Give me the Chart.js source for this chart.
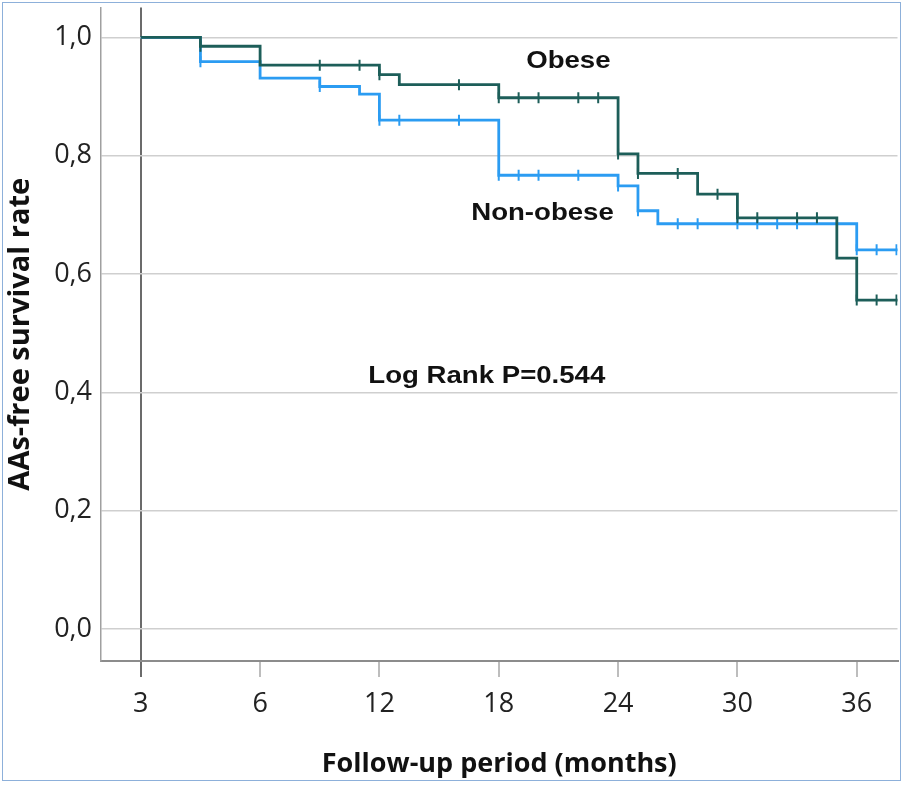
<!DOCTYPE html>
<html>
<head>
<meta charset="utf-8">
<title>AAs-free survival</title>
<script src="https://cdn.jsdelivr.net/npm/chart.js@4.4.1/dist/chart.umd.min.js"></script>
<style>
  html, body { margin: 0; padding: 0; background: #fff; }
  #wrap { position: relative; width: 905px; height: 785px; }
  #frame { position: absolute; left: 2px; top: 2px; width: 897px; height: 777px;
           border: 1.5px solid #8db0da; pointer-events: none; }
</style>
</head>
<body>
<div id="wrap">
  <canvas id="kmChart" width="905" height="785"></canvas>
  <div id="frame"></div>
</div>
<script>
// Kaplan-Meier steps: month where the curve changes and the survival right after it
const obeseTimes = [0, 3, 6, 12, 13, 18, 24, 25, 28, 30, 35, 36, 38.5];
const obeseSurv = [1.0, 0.985, 0.953, 0.937, 0.920, 0.898, 0.803, 0.770, 0.735, 0.695, 0.627, 0.556, 0.556];
const obeseCensored = [3, 9, 11, 12, 16, 18, 19, 20, 22, 23, 24, 25, 27, 29, 30, 31, 33, 34, 36, 37, 38];

const nonObeseTimes = [0, 3, 6, 9, 11, 12, 18, 24, 25, 26, 36, 38.5];
const nonObeseSurv = [1.0, 0.959, 0.931, 0.917, 0.904, 0.860, 0.767, 0.749, 0.707, 0.685, 0.641, 0.641];
const nonObeseCensored = [3, 9, 12, 13, 16, 18, 19, 20, 22, 24, 25, 27, 28, 30, 31, 32, 33, 36, 37, 38];

// axis ticks (the first x tick sits at 0 but is labelled "3" in the original)
const xTickValues = [0, 6, 12, 18, 24, 30, 36];
const xTickLabels = ['3', '6', '12', '18', '24', '30', '36'];
const yTickValues = [0, 0.2, 0.4, 0.6, 0.8, 1.0];

const teal = '#1d5e59';
const blue = '#2b9cf2';

function stepPoints(times, surv) {
    return times.map((t, i) => ({ x: t, y: surv[i] }));
}

// survival level at a censoring time
function survAt(times, surv, t) {
    let v = surv[0];
    for (let i = 0; i < times.length; i++) {
        if (times[i] <= t) v = surv[i];
    }
    return v;
}

function censorPoints(censored, times, surv) {
    return censored.map(t => ({ x: t, y: survAt(times, surv, t) }));
}

// draws the in-plot labels at data positions, slightly widened like the original
const annotationText = {
    id: 'annotationText',
    afterDatasetsDraw(chart, args, opts) {
        const { ctx, scales: { x, y } } = chart;
        ctx.save();
        ctx.font = 'bold 24px "Liberation Sans", Arial, sans-serif';
        ctx.fillStyle = '#111';
        ctx.textAlign = 'center';
        ctx.textBaseline = 'alphabetic';
        opts.items.forEach(item => {
            ctx.save();
            ctx.translate(x.getPixelForValue(item.x), y.getPixelForValue(item.y));
            ctx.scale(opts.stretch, 1);
            ctx.fillText(item.text, 0, 0);
            ctx.restore();
        });
        ctx.restore();
    }
};

const tickFont = { family: '"Open Sans", sans-serif', size: 27 };

const ctxKm = document.getElementById('kmChart').getContext('2d');
const kmChart = new Chart(ctxKm, {
    type: 'line',
    data: {
        datasets: [
            {
                label: 'Obese',
                data: stepPoints(obeseTimes, obeseSurv),
                stepped: 'before',
                borderColor: teal,
                borderWidth: 2.8,
                pointRadius: 0,
                fill: false
            },
            {
                label: 'Obese censored',
                data: censorPoints(obeseCensored, obeseTimes, obeseSurv),
                showLine: false,
                pointStyle: 'line',
                rotation: 90,
                pointRadius: 5.5,
                borderColor: teal,
                pointBorderWidth: 2
            },
            {
                label: 'Non-obese',
                data: stepPoints(nonObeseTimes, nonObeseSurv),
                stepped: 'before',
                borderColor: blue,
                borderWidth: 2.8,
                pointRadius: 0,
                fill: false
            },
            {
                label: 'Non-obese censored',
                data: censorPoints(nonObeseCensored, nonObeseTimes, nonObeseSurv),
                showLine: false,
                pointStyle: 'line',
                rotation: 90,
                pointRadius: 5.5,
                borderColor: blue,
                pointBorderWidth: 2
            }
        ]
    },
    options: {
        responsive: false,
        animation: false,
        layout: { padding: { left: 4, right: 7, top: 5, bottom: 4 } },
        plugins: {
            legend: { display: false },
            tooltip: { enabled: false },
            annotationText: {
                stretch: 1.15,
                items: [
                    { text: 'Obese', x: 21.5, y: 0.948 },
                    { text: 'Non-obese', x: 20.2, y: 0.691 },
                    { text: 'Log Rank P=0.544', x: 17.4, y: 0.416 }
                ]
            }
        },
        scales: {
            x: {
                type: 'linear',
                min: -2.0,
                max: 38.05,
                afterBuildTicks: scale => { scale.ticks = xTickValues.map(v => ({ value: v })); },
                afterFit: scale => {
                    scale.height = 120;
                    scale.paddingLeft = 0;
                    scale.paddingRight = 0;
                },
                ticks: {
                    callback: value => xTickLabels[xTickValues.indexOf(value)],
                    font: tickFont,
                    color: '#222',
                    padding: 11,
                    maxRotation: 0,
                    autoSkip: false
                },
                grid: {
                    color: ctx => (ctx.tick && ctx.tick.value === 0) ? '#6b6b6b' : 'rgba(0,0,0,0)',
                    tickColor: ctx => (ctx.tick && ctx.tick.value === 0) ? '#6b6b6b' : '#bdbdbd',
                    lineWidth: 2,
                    tickLength: 16
                },
                border: { color: '#8c8c8c', width: 2 },
                title: {
                    display: true,
                    text: 'Follow-up period (months)',
                    font: { family: '"Open Sans", sans-serif', size: 27, weight: 'bold' },
                    color: '#111',
                    padding: { top: 4, bottom: 0 }
                }
            },
            y: {
                min: -0.054,
                max: 1.0505,
                afterBuildTicks: scale => { scale.ticks = yTickValues.map(v => ({ value: v })); },
                afterFit: scale => {
                    scale.width = 97;
                    scale.paddingTop = 0;
                    scale.paddingBottom = 0;
                },
                ticks: {
                    callback: value => value.toFixed(1).replace('.', ','),
                    font: tickFont,
                    color: '#222',
                    padding: 9
                },
                grid: {
                    color: '#cfcfcf',
                    lineWidth: 1.5,
                    drawTicks: false
                },
                border: { color: '#a0a0a0', width: 1.5 },
                title: {
                    display: true,
                    text: 'AAs-free survival rate',
                    font: { family: '"Open Sans", sans-serif', size: 29, weight: 'bold' },
                    color: '#111',
                    padding: { top: -1, bottom: 0 }
                }
            }
        }
    },
    plugins: [annotationText]
});
</script>
</body>
</html>
